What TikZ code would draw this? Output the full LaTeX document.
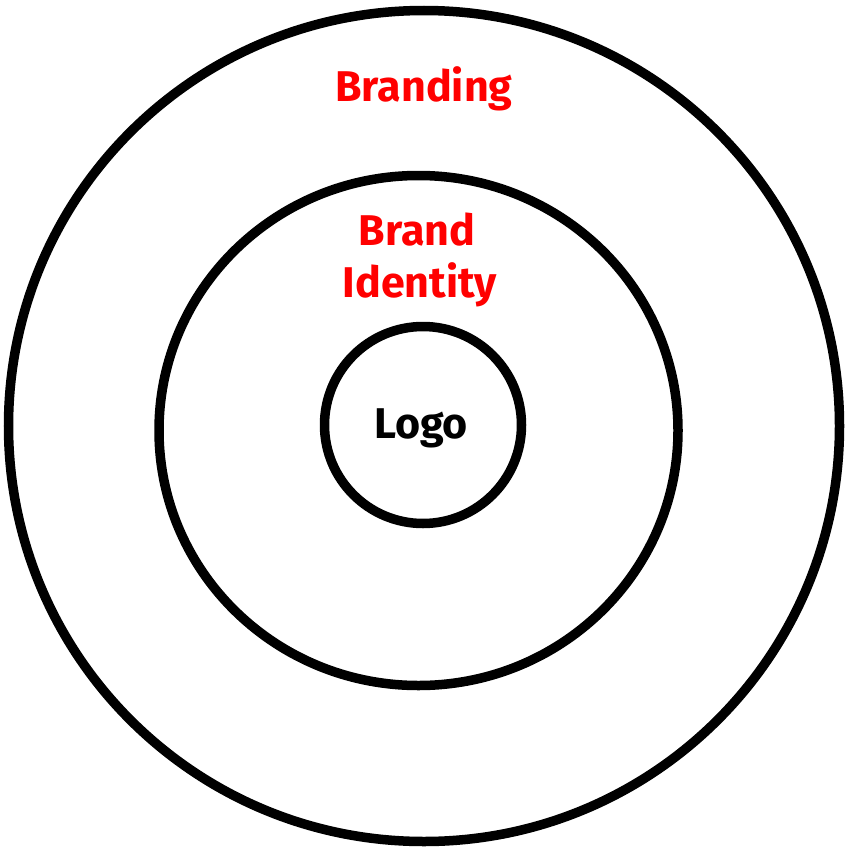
\documentclass[tikz,border=0pt]{standalone}
\usepackage{fontspec}
\newfontfamily\hand{Fira Sans}
\begin{document}
\begin{tikzpicture}[x=1bp,y=-1bp,
  ring/.style={draw=black,line width=9.5bp},
  lbl/.style={anchor=base,inner sep=0pt,font=\hand\bfseries\fontsize{43bp}{52bp}\selectfont},
  redlbl/.style={lbl,text=red}]
\useasboundingbox[fill=white] (0,0) rectangle (848,853);
\draw[ring] (424,426) circle[radius=415.5];
\draw[ring] (418.5,430.5) ellipse[x radius=259.5,y radius=255];
\draw[ring] (423,425) circle[radius=98.5];
\node[redlbl] (branding) at (424,101) {Branding};
\node[redlbl] (brand) at (417,245) {Brand};
\node[redlbl] (identity) at (420,297) {Identity};
\node[lbl] (logo) at (421,438) {Logo};
\end{tikzpicture}
\end{document}
